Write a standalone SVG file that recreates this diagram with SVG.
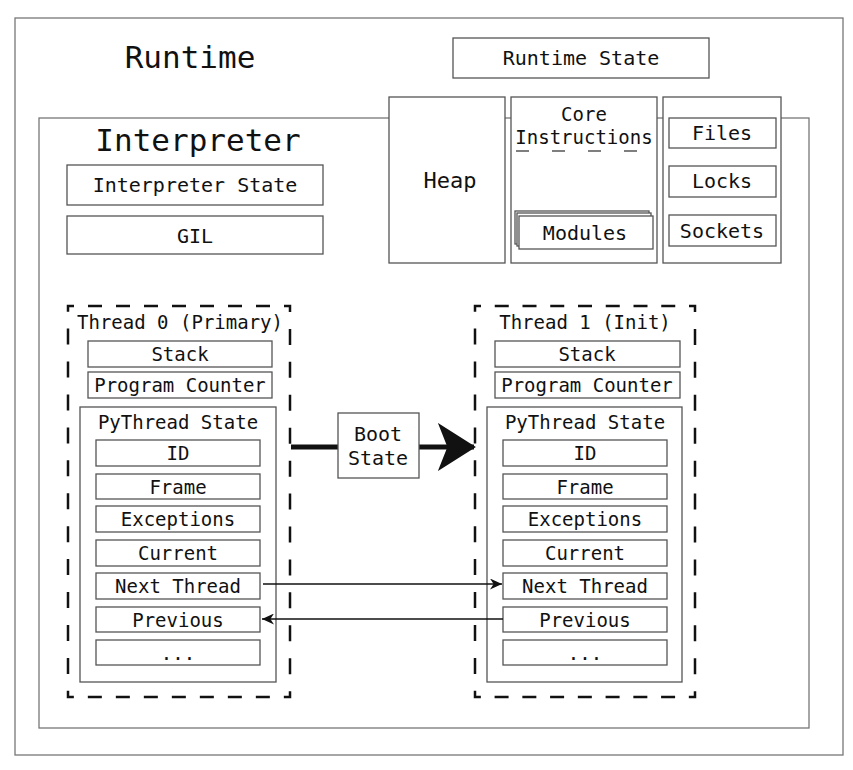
<svg xmlns="http://www.w3.org/2000/svg" width="853" height="770" viewBox="0 0 853 770">
<defs>
<style>
text{font-family:"DejaVu Sans Mono","Liberation Mono",monospace;fill:#111;text-anchor:middle;dominant-baseline:central}
.box{fill:#fff;stroke:#555;stroke-width:1.3}
.frame{fill:#fff;stroke:#777;stroke-width:1.3}
.dash{fill:none;stroke:#111;stroke-width:2.5}
.t20{font-size:20px}
.t19{font-size:19px}
.big{font-size:31px}
.thin{stroke:#111;stroke-width:1.5;fill:none}
</style>
<marker id="ah" viewBox="0 0 10 10" refX="10" refY="5" markerWidth="12" markerHeight="11" markerUnits="userSpaceOnUse" orient="auto" preserveAspectRatio="none">
<path d="M0,0 L10,5 L0,10 L3,5 Z" fill="#111"/>
</marker>
<marker id="bh" viewBox="0 0 10 10" refX="9.5" refY="5" markerWidth="38" markerHeight="48" markerUnits="userSpaceOnUse" orient="auto" preserveAspectRatio="none">
<path d="M0,0 L10,5 L0,10 L2.5,5 Z" fill="#111"/>
</marker>
</defs>
<rect width="853" height="770" fill="#fff"/>
<g id="runtime">
<rect class="frame" x="15" y="18" width="828" height="737"/>
<text class="big" x="190" y="57">Runtime</text>
</g>
<g id="runtime-state">
<rect class="box" x="453" y="38" width="256" height="40"/>
<text class="t20" x="581" y="58">Runtime State</text>
</g>
<g id="interpreter">
<rect class="frame" x="39" y="118" width="770" height="610"/>
<text class="big" x="198" y="140">Interpreter</text>
</g>
<g id="interpreter-state">
<rect class="box" x="67" y="165" width="256" height="40"/>
<text class="t20" x="195" y="185">Interpreter State</text>
</g>
<g id="gil">
<rect class="box" x="67" y="216" width="256" height="38"/>
<text class="t20" x="195" y="236">GIL</text>
</g>
<g id="heap">
<rect class="box" x="389" y="97" width="116" height="166"/>
<text x="450" y="180" style="font-size:22px">Heap</text>
</g>
<g id="core-instructions">
<rect class="box" x="511" y="97" width="146" height="166"/>
<text class="t19" x="584" y="114">Core</text>
<text class="t19" x="584" y="137">Instructions</text>
<line x1="511" y1="151" x2="657" y2="151" stroke="#555" stroke-width="1.3" stroke-dasharray="13 23" stroke-dashoffset="-5"/>
</g>
<g id="modules">
<rect class="box" x="515" y="211" width="134" height="33"/>
<rect class="box" x="517" y="213" width="134" height="33"/>
<rect class="box" x="519" y="216" width="134" height="33"/>
<text class="t20" x="585" y="233">Modules</text>
</g>
<g id="os-resources">
<rect class="box" x="663" y="97" width="118" height="166"/>
</g>
<g id="files">
<rect class="box" x="669" y="118" width="107" height="30"/>
<text class="t20" x="722" y="133">Files</text>
</g>
<g id="locks">
<rect class="box" x="669" y="166" width="107" height="31"/>
<text class="t20" x="722" y="181">Locks</text>
</g>
<g id="sockets">
<rect class="box" x="669" y="215" width="107" height="31"/>
<text class="t20" x="722" y="231">Sockets</text>
</g>
<g id="thread0">
<path class="dash" d="M68,306 H290 V697 H68 Z" stroke-dasharray="6 14 14 14 14 14 14 14 14 14 14 14 14 14 14 14 12 16.93 16 16.93 16 16.93 16 16.93 16 16.93 16 16.93 16 16.93 16 16.93 16 16.93 16 16.93 16 16.93 16 16.93 12 14 14 14 14 14 14 14 14 14 14 14 14 14 14 14 12 16.93 16 16.93 16 16.93 16 16.93 16 16.93 16 16.93 16 16.93 16 16.93 16 16.93 16 16.93 16 16.93 16 16.93 6"/>
<text class="t19" x="180" y="322">Thread 0 (Primary)</text>
<rect class="box" x="88" y="341" width="184" height="26"/>
<text class="t19" x="180" y="354">Stack</text>
<rect class="box" x="88" y="372" width="184" height="26"/>
<text class="t19" x="180" y="385">Program Counter</text>
<rect class="box" x="80" y="407" width="196" height="275"/>
<text class="t19" x="178" y="422">PyThread State</text>
<rect class="box" x="96" y="440" width="164" height="26"/>
<text class="t19" x="178" y="453">ID</text>
<rect class="box" x="96" y="474" width="164" height="25"/>
<text class="t19" x="178" y="487">Frame</text>
<rect class="box" x="96" y="506" width="164" height="26"/>
<text class="t19" x="178" y="519">Exceptions</text>
<rect class="box" x="96" y="540" width="164" height="26"/>
<text class="t19" x="178" y="553">Current</text>
<rect class="box" x="96" y="573" width="164" height="26"/>
<text class="t19" x="178" y="586">Next Thread</text>
<rect class="box" x="96" y="607" width="164" height="25"/>
<text class="t19" x="178" y="620">Previous</text>
<rect class="box" x="96" y="640" width="164" height="25"/>
<text class="t19" x="178" y="653">...</text>
</g>
<g id="thread1">
<path class="dash" d="M475,306 H695 V697 H475 Z" stroke-dasharray="6 13.75 14 13.75 14 13.75 14 13.75 14 13.75 14 13.75 14 13.75 14 13.75 12 16.93 16 16.93 16 16.93 16 16.93 16 16.93 16 16.93 16 16.93 16 16.93 16 16.93 16 16.93 16 16.93 16 16.93 12 13.75 14 13.75 14 13.75 14 13.75 14 13.75 14 13.75 14 13.75 14 13.75 12 16.93 16 16.93 16 16.93 16 16.93 16 16.93 16 16.93 16 16.93 16 16.93 16 16.93 16 16.93 16 16.93 16 16.93 6"/>
<text class="t19" x="585" y="322">Thread 1 (Init)</text>
<rect class="box" x="495" y="341" width="185" height="26"/>
<text class="t19" x="587" y="354">Stack</text>
<rect class="box" x="495" y="372" width="185" height="26"/>
<text class="t19" x="587" y="385">Program Counter</text>
<rect class="box" x="487" y="407" width="195" height="275"/>
<text class="t19" x="585" y="422">PyThread State</text>
<rect class="box" x="503" y="440" width="164" height="26"/>
<text class="t19" x="585" y="453">ID</text>
<rect class="box" x="503" y="474" width="164" height="25"/>
<text class="t19" x="585" y="487">Frame</text>
<rect class="box" x="503" y="506" width="164" height="26"/>
<text class="t19" x="585" y="519">Exceptions</text>
<rect class="box" x="503" y="540" width="164" height="26"/>
<text class="t19" x="585" y="553">Current</text>
<rect class="box" x="503" y="573" width="164" height="26"/>
<text class="t19" x="585" y="586">Next Thread</text>
<rect class="box" x="503" y="607" width="164" height="25"/>
<text class="t19" x="585" y="620">Previous</text>
<rect class="box" x="503" y="640" width="164" height="25"/>
<text class="t19" x="585" y="653">...</text>
</g>
<g id="connectors">
<line x1="291" y1="447" x2="338" y2="447" stroke="#111" stroke-width="5"/>
<line x1="419" y1="447" x2="474" y2="447" stroke="#111" stroke-width="5" marker-end="url(#bh)"/>
<line class="thin" x1="263" y1="584" x2="502" y2="584" marker-end="url(#ah)"/>
<line class="thin" x1="503" y1="619" x2="262" y2="619" marker-end="url(#ah)"/>
</g>
<g id="boot-state">
<rect class="box" x="338" y="413" width="81" height="65"/>
<text class="t20" x="378" y="434">Boot</text>
<text class="t20" x="378" y="458">State</text>
</g>
</svg>
